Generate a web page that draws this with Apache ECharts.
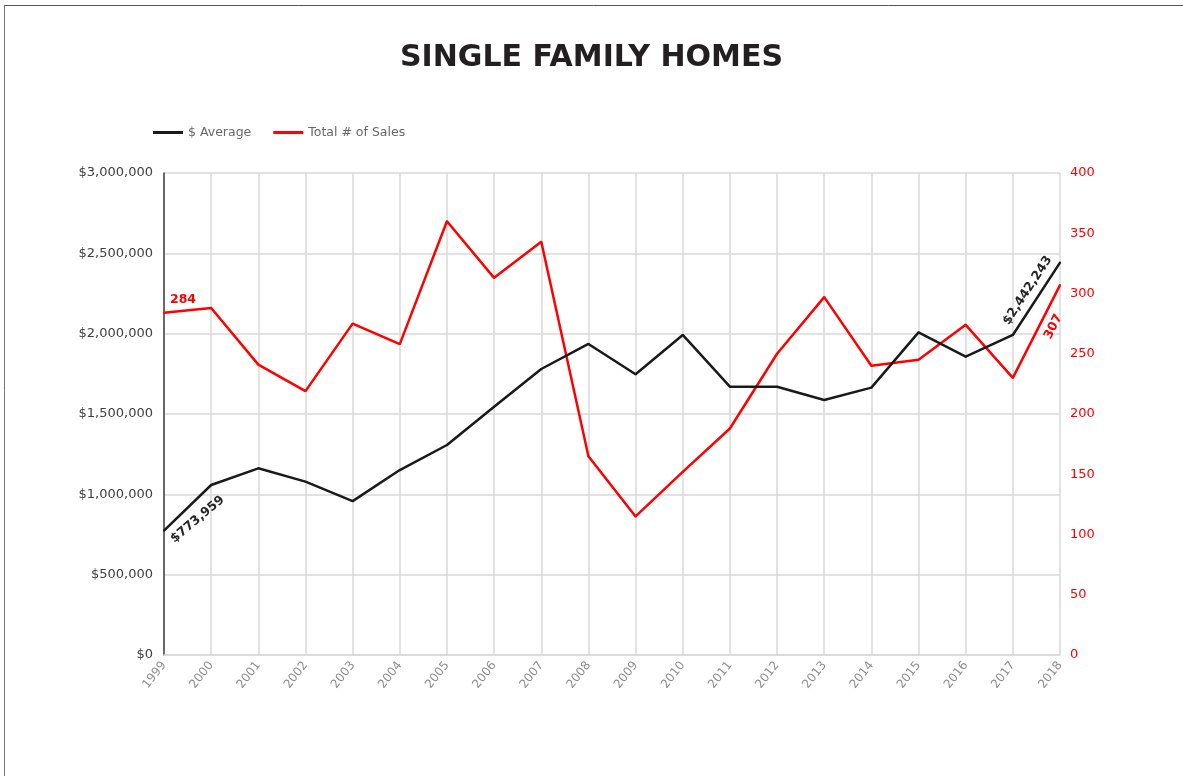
<!DOCTYPE html>
<html>
<head>
<meta charset="utf-8">
<script src="https://cdn.jsdelivr.net/npm/echarts@6/dist/echarts.min.js"></script>
<style>
html,body{margin:0;padding:0;background:#fff;}
#c{width:1183px;height:776px;}
</style>
</head>
<body>
<div id="c"></div>
<script>
const years = ['1999','2000','2001','2002','2003','2004','2005','2006','2007','2008','2009','2010','2011','2012','2013','2014','2015','2016','2017','2018'];
const avgPrice = [773959,1058000,1162000,1079000,958000,1151000,1307000,1545000,1780000,1936000,1747000,1992000,1670000,1670000,1587000,1664000,2008000,1857000,1992000,2442243];
const totalSales = [284,288,241,219,275,258,360,313,343,165,115,152,188,250,297,240,245,274,230,307];
const leftTicks = {min:0, max:3000000, interval:500000};
const rightTicks = {min:0, max:400, interval:50};

const FONT = 'DejaVu Sans';
const labelBase = {show:true, position:'inside', distance:0, align:'center', verticalAlign:'middle', fontFamily:FONT, fontWeight:'bold', fontSize:12.5};

function fmtMoney(v){ return '$' + v.toLocaleString('en-US'); }

const avgData = avgPrice.map((v,i)=>{
  if(i===0) return {value:v, label:Object.assign({}, labelBase, {rotate:40, offset:[33,13], color:'#262626', formatter:p=>fmtMoney(p.value)})};
  if(i===avgPrice.length-1) return {value:v, label:Object.assign({}, labelBase, {rotate:57, offset:[-41,-12], color:'#262626', formatter:p=>fmtMoney(p.value)})};
  return v;
});
const salesData = totalSales.map((v,i)=>{
  if(i===0) return {value:v, label:Object.assign({}, labelBase, {rotate:0, offset:[19,-13], color:'#ff0000'})};
  if(i===totalSales.length-1) return {value:v, label:Object.assign({}, labelBase, {rotate:63, offset:[-40,13], color:'#ff0000'})};
  return v;
});

const chart = echarts.init(document.getElementById('c'), null, {renderer:'canvas'});
chart.setOption({
  animation:false,
  backgroundColor:'#ffffff',
  title:{text:'SINGLE FAMILY HOMES', left:'center', top:38, textStyle:{fontFamily:FONT, fontWeight:'bold', fontSize:30, color:'#231f20'}},
  legend:{left:148, top:121, itemWidth:30, itemHeight:3, itemGap:22, icon:'rect',
    textStyle:{fontFamily:FONT, fontSize:12.5, color:'#666666'},
    data:['$ Average','Total # of Sales']},
  graphic:[
    {type:'line', shape:{x1:4, y1:5.5, x2:1183, y2:5.5}, style:{stroke:'#555', lineWidth:1}},
    {type:'line', shape:{x1:4.5, y1:5, x2:4.5, y2:776}, style:{stroke:'#777', lineWidth:1}}
  ],
  grid:{left:164, right:123, top:173, bottom:121, containLabel:false},
  xAxis:{type:'category', data:years, boundaryGap:false,
    axisLine:{show:true, lineStyle:{color:'#d9d9d9', width:1.5}},
    axisTick:{show:false},
    axisLabel:{rotate:52, fontFamily:FONT, fontSize:12, color:'#8c8c8c', margin:8, interval:0},
    splitLine:{show:true, lineStyle:{color:'#d9d9d9', width:1.5}}},
  yAxis:[
    {type:'value', min:leftTicks.min, max:leftTicks.max, interval:leftTicks.interval, position:'left',
     axisLine:{show:true, lineStyle:{color:'#404040', width:1.5}},
     axisTick:{show:false},
     axisLabel:{fontFamily:FONT, fontSize:13, color:'#404040', margin:11, formatter:v=>fmtMoney(v)},
     splitLine:{show:true, lineStyle:{color:'#d9d9d9', width:1.5}}},
    {type:'value', min:rightTicks.min, max:rightTicks.max, interval:rightTicks.interval, position:'right',
     axisLine:{show:false}, axisTick:{show:false},
     axisLabel:{fontFamily:FONT, fontSize:13, color:'#ff0000', margin:10},
     splitLine:{show:false}}
  ],
  series:[
    {name:'$ Average', type:'line', yAxisIndex:0, data:avgData, symbol:'circle', symbolSize:2,
     lineStyle:{color:'#1a1a1a', width:2.5}, itemStyle:{color:'#1a1a1a'}, z:3},
    {name:'Total # of Sales', type:'line', yAxisIndex:1, data:salesData, symbol:'circle', symbolSize:2,
     lineStyle:{color:'#ff0000', width:2.5}, itemStyle:{color:'#ff0000'}, z:2}
  ]
});
</script>
</body>
</html>
